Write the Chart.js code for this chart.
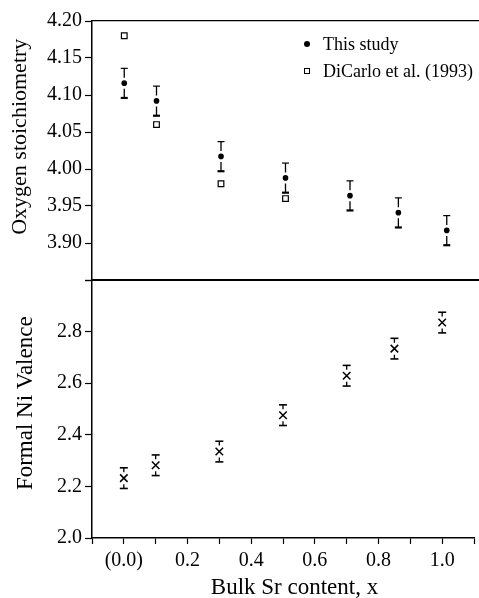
<!DOCTYPE html>
<html><head><meta charset="utf-8">
<script src="https://cdn.jsdelivr.net/npm/chart.js@4.4.1/dist/chart.umd.min.js"></script>
<style>
html,body{margin:0;padding:0;background:#fff;}
#wrap{position:relative;width:479px;height:598px;overflow:hidden;}
#wrap canvas{position:absolute;left:0;top:0;}
#legend{position:absolute;left:300px;top:32px;font-family:"Liberation Serif",serif;font-size:18px;color:#000;}
.li{position:relative;height:27px;line-height:24px;padding-left:23px;white-space:nowrap;}
.mk{position:absolute;left:0;top:0;}
</style></head>
<body><div id="wrap"><canvas id="top" width="479" height="598"></canvas><canvas id="bot" width="479" height="598"></canvas><div id="legend"></div></div>
<script>
// ---- data ----
const srContent = [0.0, 0.1, 0.3, 0.5, 0.7, 0.85, 1.0];
const oxygenThisStudy = [4.116, 4.092, 4.017, 3.988, 3.964, 3.941, 3.917];
const oxygenErr = [0.020, 0.020, 0.020, 0.020, 0.020, 0.020, 0.020];
const dicarloX = [0.0, 0.1, 0.3, 0.5];
const oxygenDiCarlo = [4.180, 4.060, 3.980, 3.960];
const niValence = [2.232, 2.282, 2.335, 2.476, 2.629, 2.734, 2.835];
const niErr = [0.040, 0.040, 0.040, 0.040, 0.040, 0.040, 0.040];
const xLabeledTicks = [0.0, 0.2, 0.4, 0.6, 0.8, 1.0];
const xTickText = ['(0.0)', '0.2', '0.4', '0.6', '0.8', '1.0'];
const oxyTickValues = [3.90, 3.95, 4.00, 4.05, 4.10, 4.15, 4.20];
const niTickValues = [2.0, 2.2, 2.4, 2.6, 2.8];
const seriesLabels = ['This study', 'DiCarlo et al. (1993)'];

const FONT = '"Liberation Serif", "Times New Roman", serif';
const pts = (xs, ys) => xs.map((x, i) => ({x: x, y: ys[i]}));

// error bar plugin: uses the chart's own scales
const errorBars = {
  id: 'errorBars',
  afterDatasetsDraw(chart) {
    const ctx = chart.ctx;
    chart.data.datasets.forEach((ds, di) => {
      if (!ds.errors) return;
      const xs = chart.scales.x, ys = chart.scales.y;
      const st = ds.errStyle;
      ctx.save();
      ctx.strokeStyle = '#000';
      ds.data.forEach((p, i) => {
        const e = ds.errors[i];
        const px = xs.getPixelForValue(p.x);
        const py = ys.getPixelForValue(p.y);
        const yt = ys.getPixelForValue(p.y + e);
        const yb = ys.getPixelForValue(p.y - e);
        ctx.lineWidth = st.stem;
        ctx.beginPath();
        ctx.moveTo(px, yt); ctx.lineTo(px, py - st.gap);
        ctx.moveTo(px, py + st.gap); ctx.lineTo(px, yb);
        ctx.stroke();
        ctx.lineWidth = st.capTop;
        ctx.beginPath(); ctx.moveTo(px - st.cap, yt); ctx.lineTo(px + st.cap, yt); ctx.stroke();
        ctx.lineWidth = st.capBot;
        ctx.beginPath(); ctx.moveTo(px - st.cap, yb); ctx.lineTo(px + st.cap, yb); ctx.stroke();
      });
      ctx.restore();
    });
  }
};

const near = (v, arr) => arr.findIndex(a => Math.abs(a - v) < 1e-6);

// ---- top chart ----
const topChart = new Chart(document.getElementById('top'), {
  type: 'scatter',
  data: {datasets: [
    {label: seriesLabels[0], data: pts(srContent, oxygenThisStudy), errors: oxygenErr,
     errStyle: {stem: 1.3, gap: 5.5, cap: 3.5, capTop: 1.2, capBot: 2.2},
     pointStyle: 'circle', pointRadius: 2.8, backgroundColor: '#000', borderColor: '#000', borderWidth: 0},
    {label: seriesLabels[1], data: pts(dicarloX, oxygenDiCarlo),
     pointStyle: 'rect', pointRadius: 4.0, backgroundColor: '#fff', borderColor: '#000', borderWidth: 1.2}
  ]},
  options: {
    responsive: false, animation: false, events: [],
    layout: {autoPadding: false, padding: {top: 21, bottom: 318, left: 0, right: 0}},
    plugins: {legend: {display: false}, tooltip: {enabled: false}},
    scales: {
      x: {type: 'linear', position: 'bottom', min: -0.1, max: 1.1,
          ticks: {display: false},
          grid: {display: true, drawOnChartArea: false, drawTicks: false},
          border: {display: true, color: '#000', width: 2},
          afterFit: s => { s.height = 0; }},
      x2: {type: 'linear', position: 'top', min: -0.1, max: 1.1,
          ticks: {display: false},
          grid: {display: true, drawOnChartArea: false, drawTicks: false},
          border: {display: true, color: '#000', width: 1.3},
          afterFit: s => { s.height = 0; }},
      y: {type: 'linear', min: 3.85, max: 4.20,
          afterBuildTicks: s => { s.ticks = [3.85].concat(oxyTickValues).map(v => ({value: v})); },
          ticks: {color: '#000', font: {family: FONT, size: 20}, padding: 3,
                  callback: v => near(v, oxyTickValues) >= 0 ? v.toFixed(2) : ''},
          grid: {drawOnChartArea: false, color: '#000', tickLength: 7, tickWidth: 1.2},
          border: {display: true, color: '#000', width: 1.5},
          title: {display: true, text: '     Oxygen stoichiometry', color: '#000',
                  font: {family: FONT, size: 22}, padding: {top: 7, bottom: 0}},
          afterFit: s => { s.width = 92; }}
    }
  },
  plugins: [errorBars]
});

// ---- bottom chart ----
const botChart = new Chart(document.getElementById('bot'), {
  type: 'scatter',
  data: {datasets: [
    {label: 'Formal Ni valence', data: pts(srContent, niValence), errors: niErr,
     errStyle: {stem: 1.3, gap: 6, cap: 4, capTop: 1.6, capBot: 1.6},
     pointStyle: 'crossRot', pointRadius: 5.3, borderColor: '#000', borderWidth: 1.5}
  ]},
  options: {
    responsive: false, animation: false, events: [],
    layout: {autoPadding: false, padding: {top: 280, bottom: 0, left: 0, right: 0}},
    plugins: {legend: {display: false}, tooltip: {enabled: false}},
    scales: {
      x: {type: 'linear', position: 'bottom', min: -0.1, max: 1.1,
          afterBuildTicks: s => { const t = []; for (let k = -1; k <= 11; k++) t.push({value: k / 10}); s.ticks = t; },
          ticks: {autoSkip: false, maxRotation: 0, color: '#000', font: {family: FONT, size: 20}, padding: 5,
                  callback: v => { const i = near(v, xLabeledTicks); return i >= 0 ? xTickText[i] : ''; }},
          grid: {drawOnChartArea: false, color: '#000', tickLength: 6, tickWidth: 1.2},
          border: {display: true, color: '#000', width: 1.5},
          title: {display: true, text: '    Bulk Sr content, x', color: '#000',
                  font: {family: FONT, size: 23, lineHeight: 0.9}, padding: {top: 0, bottom: 0}},
          afterFit: s => { s.height = 60; }},
      y: {type: 'linear', min: 2.0, max: 3.0,
          afterBuildTicks: s => { s.ticks = niTickValues.concat([3.0]).map(v => ({value: v})); },
          ticks: {color: '#000', font: {family: FONT, size: 20}, padding: 3,
                  callback: v => near(v, niTickValues) >= 0 ? v.toFixed(1) : ''},
          grid: {drawOnChartArea: false, color: '#000', tickLength: 7, tickWidth: 1.2},
          border: {display: true, color: '#000', width: 1.5},
          title: {display: true, text: '  Formal Ni Valence', color: '#000',
                  font: {family: FONT, size: 23}, padding: {top: 12, bottom: 0}},
          afterFit: s => { s.width = 92; }}
    }
  },
  plugins: [errorBars]
});

// ---- legend (HTML, built from the top chart's datasets) ----
const leg = document.getElementById('legend');
topChart.data.datasets.forEach(ds => {
  const row = document.createElement('div');
  row.className = 'li';
  const m = document.createElement('span');
  m.className = 'mk';
  if (ds.pointStyle === 'circle') {
    m.style.cssText = 'left:4px;top:9px;width:6px;height:6px;border-radius:50%;background:#000;';
  } else {
    m.style.cssText = 'left:4px;top:9px;width:4px;height:4px;border:1.2px solid #000;background:#fff;';
  }
  row.appendChild(m);
  row.appendChild(document.createTextNode(ds.label));
  leg.appendChild(row);
});
</script></body></html>
